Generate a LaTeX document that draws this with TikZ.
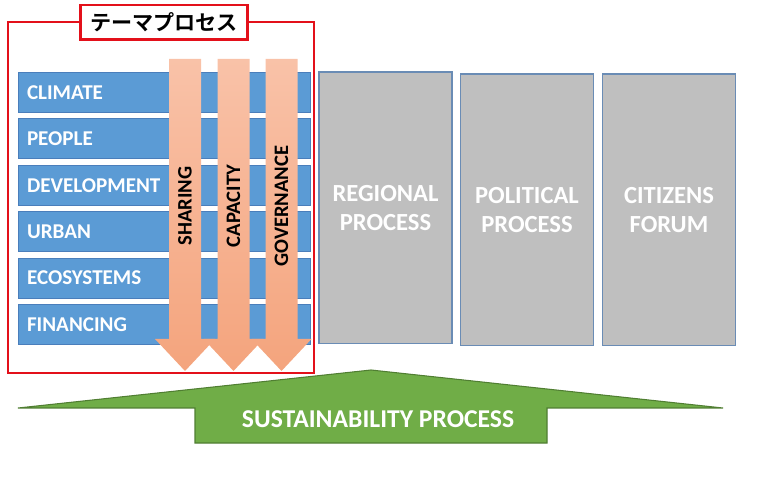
\documentclass[tikz,border=0pt]{standalone}
\usepackage{fontspec}
\setmainfont{Carlito}
\newfontfamily\jpfont{Noto Sans CJK JP}[BoldFont={Noto Sans CJK JP Bold}]
\usetikzlibrary{positioning}
\definecolor{thblue}{HTML}{5B9BD5}
\definecolor{thblueline}{HTML}{4A7EBB}
\definecolor{thgrey}{HTML}{BFBFBF}
\definecolor{thgreyline}{HTML}{6A8CB5}
\definecolor{thred}{HTML}{E3101A}
\definecolor{thsalmonA}{HTML}{F9C2A8}
\definecolor{thsalmonB}{HTML}{F4A47D}
\definecolor{thgreen}{HTML}{70AD47}
\definecolor{thgreenline}{HTML}{507E32}

\begin{document}
\begin{tikzpicture}[x=0.02cm,y=-0.02cm,
  bar/.style={draw=thblueline,fill=thblue,line width=0.6pt,anchor=north west,
              minimum width=5.84cm,minimum height=0.8cm,text width=5.5cm,align=left,
              inner xsep=0.17cm,text=white,font=\bfseries\fontsize{12}{14}\selectfont},
  pbox/.style={draw=thgreyline,fill=thgrey,line width=0.6pt,minimum width=2.66cm,
               minimum height=5.44cm,align=center,text=white,
               font=\bfseries\fontsize{14}{17}\selectfont},
  flow/.style={top color=thsalmonA,bottom color=thsalmonB,draw=none},
  vlab/.style={rotate=90,font=\bfseries\fontsize{11.7}{13}\selectfont},
  frame/.style={draw=thred,line width=1.7pt}]
\useasboundingbox (0,0) rectangle (768,503);

% theme rows
\foreach \t/\n [count=\i from 0] in {CLIMATE/climate,PEOPLE/people,DEVELOPMENT/development,
    URBAN/urban,ECOSYSTEMS/ecosystems,FINANCING/financing}
  \node[bar] (\n) at (18,{72+\i*46.4}) {\t};

% cross-cutting arrows
\foreach \c/\t/\n in {185/SHARING/sharing,233.5/CAPACITY/capacity,281.5/GOVERNANCE/governance}{
  \path[flow] ({\c-16},59) -- ({\c+16},59) -- ({\c+16},339) -- ({\c+30},339)
    -- (\c,371) -- ({\c-30},339) -- ({\c-16},339) -- cycle;
  \node[vlab] (\n) at (\c,206) {\t};
}

% frame and title
\draw[frame] (8,22) rectangle (314,373);
\node[frame,fill=white,minimum width=3.36cm,minimum height=0.7cm,
      font=\jpfont\bfseries\fontsize{12}{14}\selectfont] (title) at (164,22.5) {テーマプロセス};

% other processes
\node[pbox] (regional) at (385.5,208) {REGIONAL\\PROCESS};
\node[pbox] (political) at (527,210) {POLITICAL\\PROCESS};
\node[pbox] (citizens) at (669,210) {CITIZENS\\FORUM};

% base arrow
\draw[fill=thgreen,draw=thgreenline,line width=0.6pt] (18,408) -- (371,370) -- (723,408)
  -- (547,408) -- (547,443) -- (195,443) -- (195,408) -- cycle;
\node[text=white,font=\bfseries\fontsize{14.6}{17}\selectfont] (sustain) at (378,419)
  {SUSTAINABILITY PROCESS};
\end{tikzpicture}
\end{document}
